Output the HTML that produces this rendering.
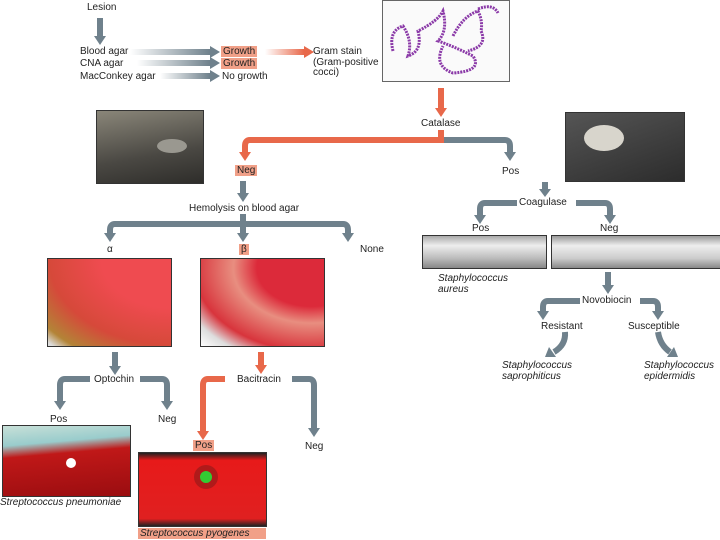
<!DOCTYPE html>
<html><head><meta charset="utf-8"><style>
body{margin:0;width:720px;height:540px;background:#fff;position:relative;overflow:hidden;font-family:"Liberation Sans",sans-serif;color:#222}
.t{position:absolute;font-size:10px;white-space:nowrap;line-height:11px}
.i{font-style:italic}
.b{background:#f1a088;padding:0 2px}
.p{position:absolute;border:1px solid #333}
svg{position:absolute;left:0;top:0}
</style></head><body>
<svg width="720" height="540">
<defs>
<linearGradient id="gh" x1="0" x2="1"><stop offset="0" stop-color="#6f818c" stop-opacity="0"/><stop offset="1" stop-color="#6f818c"/></linearGradient>
<linearGradient id="oh" x1="0" x2="1"><stop offset="0" stop-color="#e8684a" stop-opacity="0"/><stop offset="1" stop-color="#e8684a"/></linearGradient>
</defs>
<rect x="130" y="49" width="80" height="6" fill="url(#gh)"/>
<rect x="137" y="60" width="73" height="6" fill="url(#gh)"/>
<rect x="160" y="73" width="50" height="6" fill="url(#gh)"/>
<rect x="265" y="49" width="39" height="6" fill="url(#oh)"/>
<g fill="none" stroke-width="6" stroke="#6f818c">
<path d="M100 18V36"/>
<path d="M441 140H505Q510 140 510 146V152"/>
<path d="M243 181V193"/>
<path d="M115 224H343Q348 224 348 230V233M115 224Q110 224 110 230V233M243 214V233"/>
<path d="M115 352V366"/>
<path d="M90 379H65Q60 379 60 385V401"/>
<path d="M140 379H162Q167 379 167 385V401"/>
<path d="M292 379H309Q314 379 314 385V428"/>
<path d="M545 182V189"/>
<path d="M517 203H485Q480 203 480 209V215"/>
<path d="M576 203H605Q610 203 610 209V215"/>
<path d="M608 272V285"/>
<path d="M580 301H548Q543 301 543 307V311"/>
<path d="M640 301H653Q658 301 658 307V311"/>
<path d="M565 332Q566 345 554 352"/>
<path d="M658 332Q660 345 670 352"/>
</g>
<g fill="none" stroke-width="6" stroke="#e8684a">
<path d="M441 88V108"/>
<path d="M441 130V140H250Q245 140 245 146V152"/>
<path d="M261 352V365"/>
<path d="M225 379H208Q203 379 203 385V431"/>
</g>
<g fill="#6f818c">
<path d="M210 46L220 52L210 58Z"/><path d="M210 57L220 63L210 69Z"/><path d="M210 70L220 76L210 82Z"/>
<path d="M94 36L100 45L106 36Z"/>
<path d="M504 152L510 161L516 152Z"/>
<path d="M237 193L243 202L249 193Z"/>
<path d="M104 233L110 242L116 233Z"/><path d="M237 233L243 242L249 233Z"/><path d="M342 233L348 242L354 233Z"/>
<path d="M109 366L115 375L121 366Z"/>
<path d="M54 401L60 410L66 401Z"/><path d="M161 401L167 410L173 401Z"/><path d="M308 428L314 437L320 428Z"/>
<path d="M539 189L545 197L551 189Z"/>
<path d="M474 215L480 224L486 215Z"/><path d="M604 215L610 224L616 215Z"/>
<path d="M602 285L608 294L614 285Z"/>
<path d="M537 311L543 320L549 311Z"/><path d="M652 311L658 320L664 311Z"/>
<path d="M549 347L545 357L556 357Z"/><path d="M667 357L678 357L674 347Z"/>
</g>
<g fill="#e8684a">
<path d="M304 46L314 52L304 58Z"/>
<path d="M435 108L441 117L447 108Z"/>
<path d="M239 152L245 161L251 152Z"/>
<path d="M255 365L261 374L267 365Z"/>
<path d="M197 431L203 440L209 431Z"/>
</g>
</svg>
<div class="t" style="left:87px;top:2px">Lesion</div>
<div class="t" style="left:80px;top:46px">Blood agar</div>
<div class="t" style="left:80px;top:58px">CNA agar</div>
<div class="t" style="left:80px;top:71px">MacConkey agar</div>
<div class="t b" style="left:221px;top:46px;width:32px">Growth</div>
<div class="t b" style="left:221px;top:58px;width:32px">Growth</div>
<div class="t" style="left:222px;top:71px">No growth</div>
<div class="t" style="left:313px;top:47px;line-height:10.5px">Gram stain<br>(Gram-positive<br>cocci)</div>
<div class="p" style="left:382px;top:0;width:126px;height:80px;background:#fafafa;border-color:#666">
<svg width="126" height="80"><g fill="none" stroke="#8b3aa8" stroke-width="3" stroke-dasharray="2 1"><path d="M10 50Q5 30 20 25Q30 40 25 55Q40 50 35 30Q55 20 60 10Q65 30 55 40Q70 45 90 55Q100 70 70 72Q50 65 60 45"/><path d="M70 35Q80 15 95 10Q100 20 98 30Q105 45 85 50"/><path d="M95 8Q110 2 115 12"/></g></svg></div>
<div class="t" style="left:421px;top:118px">Catalase</div>
<div class="p" style="left:96px;top:110px;width:106px;height:72px;background:linear-gradient(170deg,#8a8679,#4a4843 60%,#2e2d2a)"><div style="position:absolute;left:60px;top:28px;width:30px;height:14px;border-radius:50%;background:#9a9890"></div></div>
<div class="p" style="left:565px;top:112px;width:118px;height:68px;background:linear-gradient(160deg,#555,#2c2c2c)"><div style="position:absolute;left:18px;top:12px;width:40px;height:26px;border-radius:50%;background:#d8d5cc"></div></div>
<div class="t b" style="left:235px;top:165px">Neg</div>
<div class="t" style="left:502px;top:166px">Pos</div>
<div class="t" style="left:189px;top:203px">Hemolysis on blood agar</div>
<div class="t" style="left:107px;top:244px">α</div>
<div class="t b" style="left:239px;top:244px">β</div>
<div class="t" style="left:360px;top:244px">None</div>
<div class="p" style="left:47px;top:258px;width:123px;height:87px;background:radial-gradient(ellipse at 100% 0%,#ef4b50 40%,#d6493a 70%,#b38437 90%,#ddd 98%)"></div>
<div class="p" style="left:200px;top:258px;width:123px;height:87px;background:radial-gradient(ellipse at 90% 10%,#dc2a3a 35%,#e88e80 50%,#d8343c 75%,#ddd 88%,#fff)"></div>
<div class="t" style="left:94px;top:374px">Optochin</div>
<div class="t" style="left:237px;top:374px">Bacitracin</div>
<div class="t" style="left:50px;top:414px">Pos</div>
<div class="t" style="left:158px;top:414px">Neg</div>
<div class="t b" style="left:193px;top:440px">Pos</div>
<div class="t" style="left:305px;top:441px">Neg</div>
<div class="p" style="left:2px;top:425px;width:127px;height:70px;background:linear-gradient(175deg,#c8e0d8 0%,#9cc 25%,#c01818 40%,#9a0d10)"><div style="position:absolute;left:63px;top:32px;width:10px;height:10px;border-radius:50%;background:#fff"></div></div>
<div class="t i" style="left:0;top:497px">Streptococcus pneumoniae</div>
<div class="p" style="left:138px;top:452px;width:127px;height:73px;background:linear-gradient(#222,#e71a1a 10%,#e02020 90%,#222)"><div style="position:absolute;left:55px;top:12px;width:12px;height:12px;border-radius:50%;background:#3c3;border:6px solid #b01a1a"></div></div>
<div class="t b i" style="left:138px;top:528px;width:124px;padding:0 2px">Streptococcus pyogenes</div>
<div class="t" style="left:519px;top:197px">Coagulase</div>
<div class="t" style="left:472px;top:223px">Pos</div>
<div class="t" style="left:600px;top:223px">Neg</div>
<div class="p" style="left:422px;top:235px;width:123px;height:32px;background:linear-gradient(#aaa,#eee 30%,#bbb 70%,#888)"></div>
<div class="p" style="left:551px;top:235px;width:170px;height:32px;background:linear-gradient(#999,#eee 30%,#ccc 70%,#888)"></div>
<div class="t i" style="left:438px;top:273px">Staphylococcus<br>aureus</div>
<div class="t" style="left:582px;top:295px">Novobiocin</div>
<div class="t" style="left:541px;top:321px">Resistant</div>
<div class="t" style="left:628px;top:321px">Susceptible</div>
<div class="t i" style="left:502px;top:360px">Staphylococcus<br>saprophiticus</div>
<div class="t i" style="left:644px;top:360px">Staphylococcus<br>epidermidis</div>
</body></html>
